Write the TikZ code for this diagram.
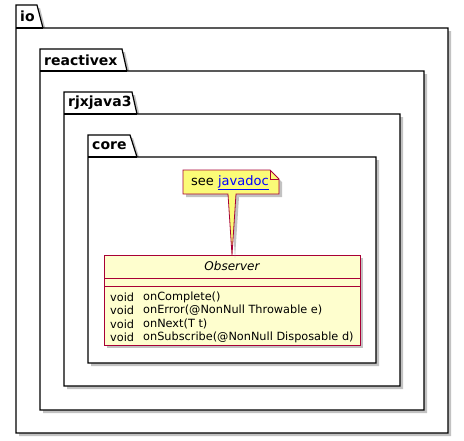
\documentclass[tikz,border=0pt]{standalone}
\usepackage{fontspec}
\setmainfont{DejaVu Sans}
\definecolor{umlred}{HTML}{A80036}
\definecolor{classbg}{HTML}{FEFECE}
\definecolor{notebg}{HTML}{FBFB77}
\definecolor{shadowc}{HTML}{9A9A9A}
\tikzset{
  pkgline/.style={draw=black, line width=1.2pt, fill=white},
  shadowfill/.style={fill=shadowc, opacity=0.6},
  pkglabel/.style={font=\fontsize{14}{16}\selectfont\bfseries, anchor=west, inner sep=0pt},
  member/.style={font=\fontsize{11.3}{13}\selectfont, anchor=west, inner sep=0pt},
}
\newcommand{\umlpkg}[8]{% name L TT TR1 TR2 TB R B
  \fill[shadowfill] (#2+3,#3+3) -- (#4+3,#3+3) -- (#5+3,#6+3) -- (#7+3,#6+3) -- (#7+3,#8+3) -- (#2+3,#8+3) -- cycle;
  \path[pkgline] (#2,#3) -- (#4,#3) -- (#5,#6) -- (#7,#6) -- (#7,#8) -- (#2,#8) -- cycle;
  \draw[line width=1.2pt] (#2,#6) -- (#5,#6);
  \node[pkglabel] (#1) at (#2+4,{(#3+#6)/2}) {#1};
}
\begin{document}
\begin{tikzpicture}[x=1pt,y=-1pt]
\useasboundingbox (0,0) rectangle (464,440);
\umlpkg{io}{16}{5}{37}{43}{28}{448}{433}
\umlpkg{reactivex}{40}{49}{122}{127}{71}{424}{410}
\umlpkg{rjxjava3}{64}{92}{132}{137}{114}{400}{386}
\umlpkg{core}{88}{135}{130}{137}{157}{376}{363}
% class shadow
\fill[shadowfill] (107,258) rectangle (363,348);
% class box
\draw[umlred, fill=classbg, line width=1pt] (104,255) rectangle (360,345);
\draw[umlred, line width=1pt] (104,278) -- (360,278);
\draw[umlred, line width=1pt] (104,286) -- (360,286);
\node[font=\fontsize{12}{14}\selectfont\itshape, inner sep=0pt] (observer) at (232,266.5) {Observer};
\coordinate (classtop) at (232,255);
\foreach \y/\m [count=\i] in {297/onComplete(), 310.5/{onError(@NonNull Throwable e)}, 324/onNext(T t), 337.5/{onSubscribe(@NonNull Disposable d)}} {
  \node[member] (v\i) at (110,\y) {void};
  \node[member] (m\i) at (143,\y) {\m};
}
% note shadow
\fill[shadowfill] (186,173) -- (273,173) -- (282,182) -- (282,197) -- (239,197) -- (235,258) -- (231,197) -- (186,197) -- cycle;
% note
\draw[umlred, fill=notebg, line width=0.8pt] (183,170) -- (270,170) -- (279,179) -- (279,194) -- (236,194) -- (classtop) -- (228,194) -- (183,194) -- cycle;
\draw[umlred, line width=0.8pt] (270,170) -- (270,179) -- (279,179);
\node[font=\fontsize{13}{15}\selectfont, inner sep=0pt, anchor=west] (note) at (191,182.5) {see \textcolor{blue}{\underline{javadoc}}};
\end{tikzpicture}
\end{document}
